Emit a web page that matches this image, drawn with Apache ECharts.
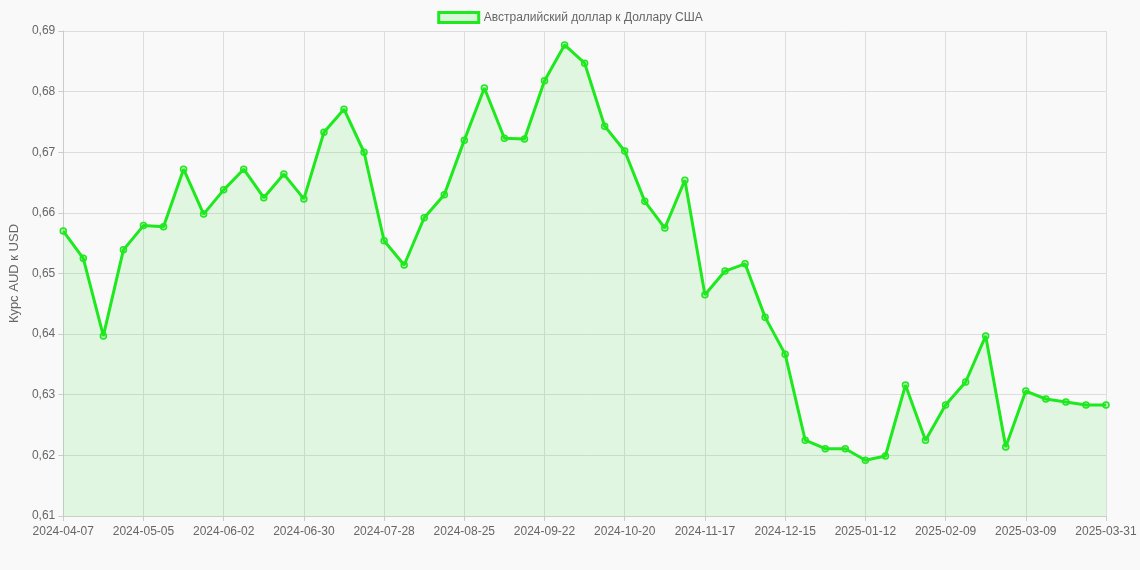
<!DOCTYPE html>
<html><head><meta charset="utf-8">
<script src="https://cdn.jsdelivr.net/npm/echarts@6/dist/echarts.min.js"></script>
<style>html,body{margin:0;background:#f9f9f9}#c{width:1140px;height:570px}</style>
</head><body><div id="c"></div>
<script>
const seriesName = 'Австралийский доллар к Доллару США';
const values = [0.6570,0.6525,0.6397,0.6539,0.6579,0.6577,0.6672,0.6598,0.6638,0.6672,0.6625,0.6664,0.6623,0.6733,0.6771,0.6700,0.6554,0.6514,0.6592,0.6630,0.6720,0.6806,0.6723,0.6722,0.6818,0.6877,0.6847,0.6743,0.6702,0.6619,0.6575,0.6654,0.6465,0.6504,0.6516,0.6428,0.6367,0.6225,0.6211,0.6211,0.6192,0.6199,0.6316,0.6225,0.6283,0.6321,0.6397,0.6214,0.6306,0.6293,0.6288,0.6283,0.6283];
const startDate = '2024-04-07';
const lastLabel = '2025-03-31';
const categories = [];
{const d=new Date(startDate+'T00:00:00Z');for(let i=0;i<values.length;i++){categories.push(i===values.length-1?lastLabel:new Date(d.getTime()+i*7*864e5).toISOString().slice(0,10));}}
const chart = echarts.init(document.getElementById('c'));
chart.setOption({
  backgroundColor:'#f9f9f9',
  textStyle:{fontFamily:'Liberation Sans, Arial, sans-serif'},
  legend:{top:6,itemWidth:40,itemHeight:10,textStyle:{color:'#666',fontSize:12},data:[{name:seriesName,icon:'rect',itemStyle:{color:'rgba(30,230,30,0.15)',borderColor:'#1ee81e',borderWidth:3}}]},
  grid:{left:62,right:34,top:31,bottom:54},
  xAxis:{type:'category',boundaryGap:false,data:categories,
    axisLine:{lineStyle:{color:'#ccc'}},axisTick:{show:true,interval:3,lineStyle:{color:'#ccc'}},
    axisLabel:{interval:3,color:'#666',fontSize:12,margin:10},
    splitLine:{show:true,interval:3,lineStyle:{color:'#ddd'}}},
  yAxis:{type:'value',min:0.61,max:0.69,interval:0.01,
    name:'Курс AUD к USD',nameLocation:'middle',nameGap:42,nameTextStyle:{color:'#666',fontSize:13},
    axisLine:{show:true,lineStyle:{color:'#ccc'}},axisTick:{show:true,lineStyle:{color:'#ccc'}},
    axisLabel:{color:'#666',fontSize:12,formatter:v=>v.toFixed(2).replace('.',',')},
    splitLine:{lineStyle:{color:'#ddd'}}},
  series:[{name:seriesName,type:'line',data:values,symbol:'circle',symbolSize:6,
    lineStyle:{color:'#1ee81e',width:3},itemStyle:{color:'rgba(30,230,30,0.25)',borderColor:'#1ee81e',borderWidth:1.5},
    areaStyle:{color:'rgba(30,230,30,0.15)'}}]
});
</script></body></html>
